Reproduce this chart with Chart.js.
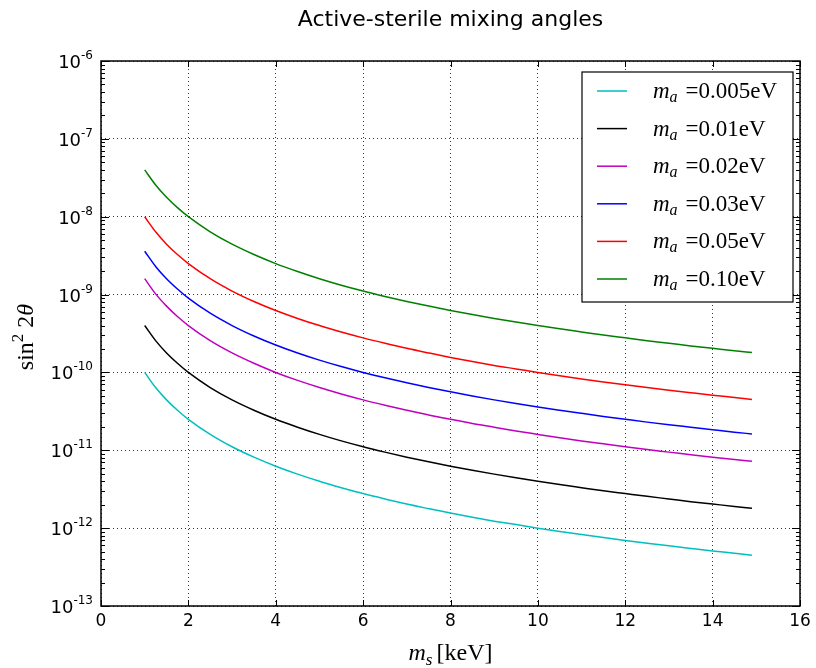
<!DOCTYPE html>
<html>
<head>
<meta charset="utf-8">
<script src="https://cdn.jsdelivr.net/npm/chart.js@4.4.1/dist/chart.umd.min.js"></script>
<style>
  html, body { margin: 0; padding: 0; background: #fff; }
  canvas { display: block; }
</style>
</head>
<body>
<canvas id="mixingChart" width="816" height="668"></canvas>
<script>
// sterile mass grid, keV
var sterileMass = [1, 1.25, 1.5, 1.75, 2, 2.5, 3, 3.5, 4, 4.5, 5, 5.5, 6, 6.5, 7, 7.5, 8, 8.5, 9, 9.5,
                   10, 10.5, 11, 11.5, 12, 12.5, 13, 13.5, 14, 14.5, 14.9];

// active mass per curve, eV
var activeMass = ['0.005', '0.01', '0.02', '0.03', '0.05', '0.10'];
var lineColors = ['#00bfbf', '#000000', '#bf00bf', '#0000ff', '#ff0000', '#008000'];

// sin^2(2 theta) along the mass grid
var mix005 = [1.00e-10, 6.40e-11, 4.44e-11, 3.27e-11, 2.50e-11, 1.60e-11, 1.11e-11, 8.16e-12, 6.25e-12, 4.94e-12,
              4.00e-12, 3.31e-12, 2.78e-12, 2.37e-12, 2.04e-12, 1.78e-12, 1.56e-12, 1.38e-12, 1.23e-12, 1.11e-12,
              1.00e-12, 9.07e-13, 8.26e-13, 7.56e-13, 6.94e-13, 6.40e-13, 5.92e-13, 5.49e-13, 5.10e-13, 4.76e-13, 4.50e-13];
var mix010 = [4.00e-10, 2.56e-10, 1.78e-10, 1.31e-10, 1.00e-10, 6.40e-11, 4.44e-11, 3.27e-11, 2.50e-11, 1.98e-11,
              1.60e-11, 1.32e-11, 1.11e-11, 9.47e-12, 8.16e-12, 7.11e-12, 6.25e-12, 5.54e-12, 4.94e-12, 4.43e-12,
              4.00e-12, 3.63e-12, 3.31e-12, 3.02e-12, 2.78e-12, 2.56e-12, 2.37e-12, 2.19e-12, 2.04e-12, 1.90e-12, 1.80e-12];
var mix020 = [1.60e-9, 1.02e-9, 7.11e-10, 5.22e-10, 4.00e-10, 2.56e-10, 1.78e-10, 1.31e-10, 1.00e-10, 7.90e-11,
              6.40e-11, 5.29e-11, 4.44e-11, 3.79e-11, 3.27e-11, 2.84e-11, 2.50e-11, 2.21e-11, 1.98e-11, 1.77e-11,
              1.60e-11, 1.45e-11, 1.32e-11, 1.21e-11, 1.11e-11, 1.02e-11, 9.47e-12, 8.78e-12, 8.16e-12, 7.61e-12, 7.21e-12];
var mix030 = [3.60e-9, 2.30e-9, 1.60e-9, 1.18e-9, 9.00e-10, 5.76e-10, 4.00e-10, 2.94e-10, 2.25e-10, 1.78e-10,
              1.44e-10, 1.19e-10, 1.00e-10, 8.52e-11, 7.35e-11, 6.40e-11, 5.63e-11, 4.98e-11, 4.44e-11, 3.99e-11,
              3.60e-11, 3.27e-11, 2.98e-11, 2.72e-11, 2.50e-11, 2.30e-11, 2.13e-11, 1.98e-11, 1.84e-11, 1.71e-11, 1.62e-11];
var mix050 = [1.00e-8, 6.40e-9, 4.44e-9, 3.27e-9, 2.50e-9, 1.60e-9, 1.11e-9, 8.16e-10, 6.25e-10, 4.94e-10,
              4.00e-10, 3.31e-10, 2.78e-10, 2.37e-10, 2.04e-10, 1.78e-10, 1.56e-10, 1.38e-10, 1.23e-10, 1.11e-10,
              1.00e-10, 9.07e-11, 8.26e-11, 7.56e-11, 6.94e-11, 6.40e-11, 5.92e-11, 5.49e-11, 5.10e-11, 4.76e-11, 4.50e-11];
var mix100 = [4.00e-8, 2.56e-8, 1.78e-8, 1.31e-8, 1.00e-8, 6.40e-9, 4.44e-9, 3.27e-9, 2.50e-9, 1.98e-9,
              1.60e-9, 1.32e-9, 1.11e-9, 9.47e-10, 8.16e-10, 7.11e-10, 6.25e-10, 5.54e-10, 4.94e-10, 4.43e-10,
              4.00e-10, 3.63e-10, 3.31e-10, 3.02e-10, 2.78e-10, 2.56e-10, 2.37e-10, 2.19e-10, 2.04e-10, 1.90e-10, 1.80e-10];
var mixSeries = [mix005, mix010, mix020, mix030, mix050, mix100];

// y axis decades and their exponent labels
var yDecades = [-13, -12, -11, -10, -9, -8, -7, -6];
var yExponents = ['-13', '-12', '-11', '-10', '-9', '-8', '-7', '-6'];
var xTickValues = [0, 2, 4, 6, 8, 10, 12, 14, 16];

var serif = '"Liberation Serif", "DejaVu Serif", serif';
var sans = '"DejaVu Sans", sans-serif';

function isDecade(v) {
    var l = Math.log10(v);
    return Math.abs(l - Math.round(l)) < 1e-6;
}

// draw a row of text pieces with their own fonts and vertical offsets
function drawRuns(ctx, runs, x, y, align) {
    var total = 0;
    runs.forEach(function (r) {
        ctx.font = r.font;
        r.w = ctx.measureText(r.text).width;
        total += r.w + (r.gap || 0);
    });
    var cx = x;
    if (align === 'center') cx = x - total / 2;
    if (align === 'right') cx = x - total;
    ctx.textAlign = 'left';
    ctx.textBaseline = 'alphabetic';
    runs.forEach(function (r) {
        ctx.font = r.font;
        ctx.fillText(r.text, cx, y + (r.dy || 0));
        cx += r.w + (r.gap || 0);
    });
}

var frameAndLabels = {
    id: 'frameAndLabels',
    afterDraw: function (chart) {
        var ctx = chart.ctx;
        var area = chart.chartArea;
        var xs = chart.scales.x, ys = chart.scales.y;
        ctx.save();
        ctx.strokeStyle = '#000';
        ctx.fillStyle = '#000';

        // inward tick marks
        ctx.lineWidth = 1;
        ctx.beginPath();
        xTickValues.forEach(function (v) {
            var px = Math.round(xs.getPixelForValue(v)) + 0.5;
            ctx.moveTo(px, area.bottom); ctx.lineTo(px, area.bottom - 6);
            ctx.moveTo(px, area.top); ctx.lineTo(px, area.top + 6);
        });
        ys.ticks.forEach(function (t) {
            var py = Math.round(ys.getPixelForValue(t.value)) + 0.5;
            var len = isDecade(t.value) ? 8 : 4;
            ctx.moveTo(area.left, py); ctx.lineTo(area.left + len, py);
            ctx.moveTo(area.right, py); ctx.lineTo(area.right - len, py);
        });
        ctx.stroke();

        // plot frame
        ctx.lineWidth = 1.5;
        ctx.strokeRect(area.left, area.top, area.right - area.left, area.bottom - area.top);

        // power-of-ten labels on the y axis
        yDecades.forEach(function (e, i) {
            var py = ys.getPixelForValue(Math.pow(10, e));
            drawRuns(ctx, [
                {text: '10', font: '18px ' + sans},
                {text: yExponents[i], font: '12px ' + sans, dy: -9}
            ], area.left - 8, py + 7, 'right');
        });

        // axis titles
        drawRuns(ctx, [
            {text: 'm', font: 'italic 24px ' + serif},
            {text: 's', font: 'italic 17px ' + serif, dy: 5, gap: 4},
            {text: '[keV]', font: '24px ' + serif}
        ], (area.left + area.right) / 2, 660, 'center');

        ctx.save();
        ctx.translate(33, 337);
        ctx.rotate(-Math.PI / 2);
        drawRuns(ctx, [
            {text: 'sin', font: '24px ' + serif},
            {text: '2', font: '17px ' + serif, dy: -10, gap: 6},
            {text: '2', font: '24px ' + serif},
            {text: '\u03b8', font: 'italic 24px ' + serif}
        ], 0, 0, 'center');
        ctx.restore();

        // legend box in the upper right corner
        var bx = 582, by = 72, bw = 211, bh = 230;
        ctx.fillStyle = '#fff';
        ctx.fillRect(bx, by, bw, bh);
        ctx.lineWidth = 1.2;
        ctx.strokeRect(bx, by, bw, bh);
        chart.data.datasets.forEach(function (ds, i) {
            var ry = by + 19 + i * 37.6;
            ctx.strokeStyle = ds.borderColor;
            ctx.lineWidth = 1.5;
            ctx.beginPath();
            ctx.moveTo(597, ry); ctx.lineTo(627, ry);
            ctx.stroke();
            ctx.fillStyle = '#000';
            drawRuns(ctx, [
                {text: 'm', font: 'italic 23px ' + serif},
                {text: 'a', font: 'italic 16px ' + serif, dy: 4, gap: 8},
                {text: '=' + activeMass[i] + 'eV', font: '23px ' + serif}
            ], 653, ry + 7, 'left');
        });
        ctx.restore();
    }
};

var datasets = mixSeries.map(function (series, i) {
    return {
        label: 'm_a =' + activeMass[i] + 'eV',
        data: series.map(function (v, j) { return {x: sterileMass[j], y: v}; }),
        borderColor: lineColors[i],
        borderWidth: 1.5,
        pointRadius: 0,
        fill: false,
        cubicInterpolationMode: 'monotone'
    };
});

new Chart(document.getElementById('mixingChart'), {
    type: 'line',
    data: {datasets: datasets},
    options: {
        responsive: false,
        animation: false,
        layout: {padding: {top: 0, right: 16, bottom: 0, left: 0}},
        plugins: {
            legend: {display: false},
            tooltip: {enabled: false},
            title: {
                display: true,
                fullSize: false,
                text: 'Active-sterile mixing angles',
                color: '#000',
                font: {family: sans, size: 22, weight: 'normal'},
                padding: {top: 7, bottom: 27.6}
            }
        },
        scales: {
            x: {
                type: 'linear',
                min: 0,
                max: 16,
                ticks: {stepSize: 2, color: '#000', font: {family: sans, size: 17}, padding: 5, maxRotation: 0},
                grid: {color: '#000', lineWidth: 0.8, drawTicks: false},
                border: {display: false, dash: [1, 3]},
                afterFit: function (s) { s.height = 62; }
            },
            y: {
                type: 'logarithmic',
                min: 1e-13,
                max: 1e-6,
                afterBuildTicks: function (s) {
                    var t = [];
                    yDecades.forEach(function (e) {
                        for (var m = 1; m <= 9; m++) {
                            if (e === -6 && m > 1) break;
                            t.push({value: m * Math.pow(10, e)});
                        }
                    });
                    s.ticks = t;
                },
                ticks: {
                    autoSkip: false,
                    callback: function () { return ''; }
                },
                grid: {
                    lineWidth: 0.8,
                    drawTicks: false,
                    color: function (c) {
                        return c.tick && isDecade(c.tick.value) ? '#000' : 'rgba(0,0,0,0)';
                    }
                },
                border: {display: false, dash: [1, 3]},
                afterFit: function (s) { s.width = 101; }
            }
        }
    },
    plugins: [frameAndLabels]
});
</script>
</body>
</html>
